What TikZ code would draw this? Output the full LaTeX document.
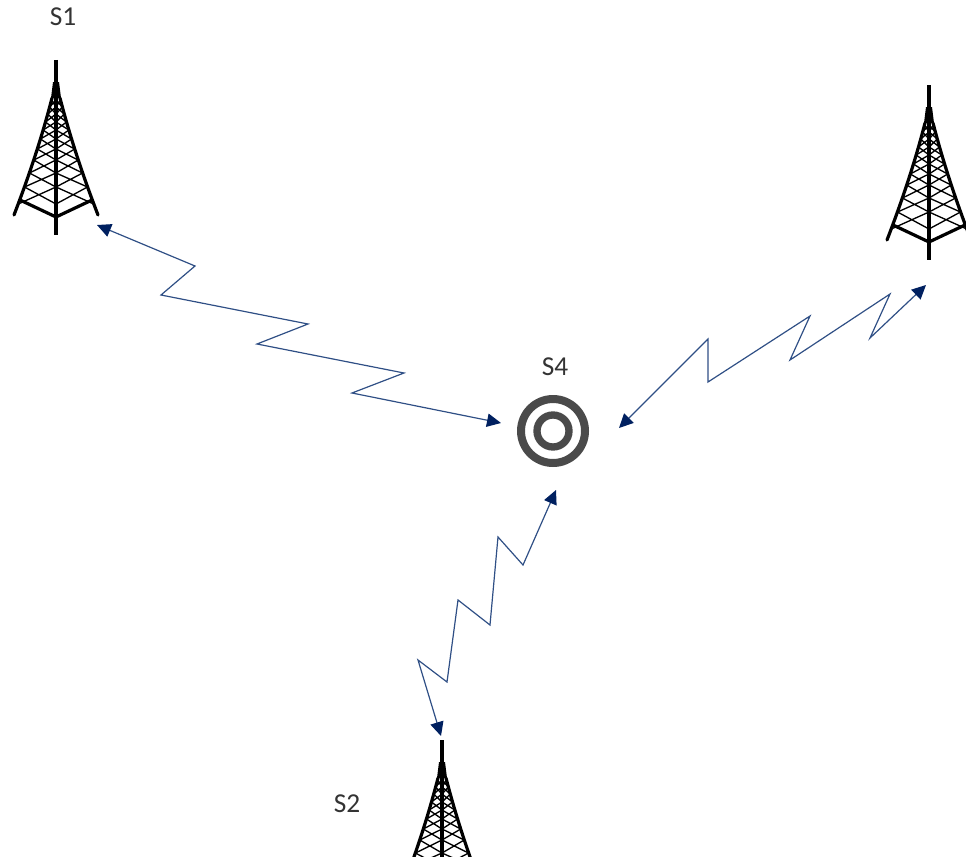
\documentclass[tikz,border=0pt]{standalone}
\usepackage{fontspec}
\setmainfont{Carlito}
\usetikzlibrary{arrows.meta,calc}
\definecolor{linkNavy}{HTML}{002060}
\definecolor{linkLine}{HTML}{2F4F85}
\definecolor{targetGray}{HTML}{4A4A4A}
\tikzset{
  lbl/.style={font=\fontsize{20.5}{23}\selectfont, text=black!80, inner sep=0pt},
  link/.style={{Triangle[length=10.5pt,width=10pt,color=linkNavy]}-{Triangle[length=10.5pt,width=10pt,color=linkNavy]}, draw=linkLine, line width=0.9pt, miter limit=10},
  ring/.style={circle, draw=targetGray, inner sep=0pt},
  tower/.pic={
    \draw[line width=2.6pt] (0,0) -- (0,175);
    \fill (-3,22) -- (3,22) -- (5,38) -- (-5,38) -- cycle;
    \draw[line width=2.4pt, line cap=round] (-4,38) .. controls (-14,77) and (-27,116) .. (-42,155) (4,38) .. controls (14,77) and (27,116) .. (42,155);
    \draw[line width=2.4pt] (-36,140) -- (0,157) -- (36,140);
    \foreach \ya/\yb in {40/47,47/54,54/62,62/70,70/79,79/89,89/100,100/113,113/127,127/144}{
      \pgfmathsetmacro{\xa}{4+0.26*(\ya-38)+0.00055*(\ya-38)*(\ya-38)}
      \pgfmathsetmacro{\xb}{4+0.26*(\yb-38)+0.00055*(\yb-38)*(\yb-38)}
      \draw[line width=1pt] (-\xa,\ya) -- (0,\yb) (0,\ya) -- (-\xb,\yb);
      \draw[line width=1pt] (\xa,\ya) -- (0,\yb) (0,\ya) -- (\xb,\yb);
    }
  }
}
\begin{document}
\begin{tikzpicture}[x=0.75pt,y=-0.75pt]
\useasboundingbox (0,0) rectangle (966,856);
\clip (0,0) rectangle (966,856);
% towers
\pic at (56,60) {tower};
\pic at (929,85) {tower};
\pic at (442,740) {tower};
% labels
\node[lbl] (s1label) at (63,17) {S1};
\node[lbl] (s4label) at (555,367) {S4};
\node[lbl] (s2label) at (347,804) {S2};
% target
\node[ring, line width=6pt, minimum size=48pt] (s4) at (553,431) {};
\node[ring, line width=5.5pt, minimum size=24pt] (s4inner) at (553,431) {};
% link ends
\coordinate (s1end) at (97,225);
\coordinate (s3end) at (926,285);
\coordinate (s2end) at (441,736);
\coordinate (s4west) at (501,423);
\coordinate (s4east) at (619,428);
\coordinate (s4south) at (556,490);
% links
\draw[link] (s1end) -- (195,266) -- (161,295) -- (308,324) -- (257,344) -- (404,373) -- (352,393) -- (s4west);
\draw[link] (s4east) -- (708,339) -- (708,382) -- (810,316) -- (790,360) -- (890,294) -- (870,338) -- (s3end);
\draw[link] (s4south) -- (523,565) -- (498,537) -- (490,625) -- (458,600) -- (447,682) -- (418,660) -- (s2end);
\end{tikzpicture}
\end{document}
